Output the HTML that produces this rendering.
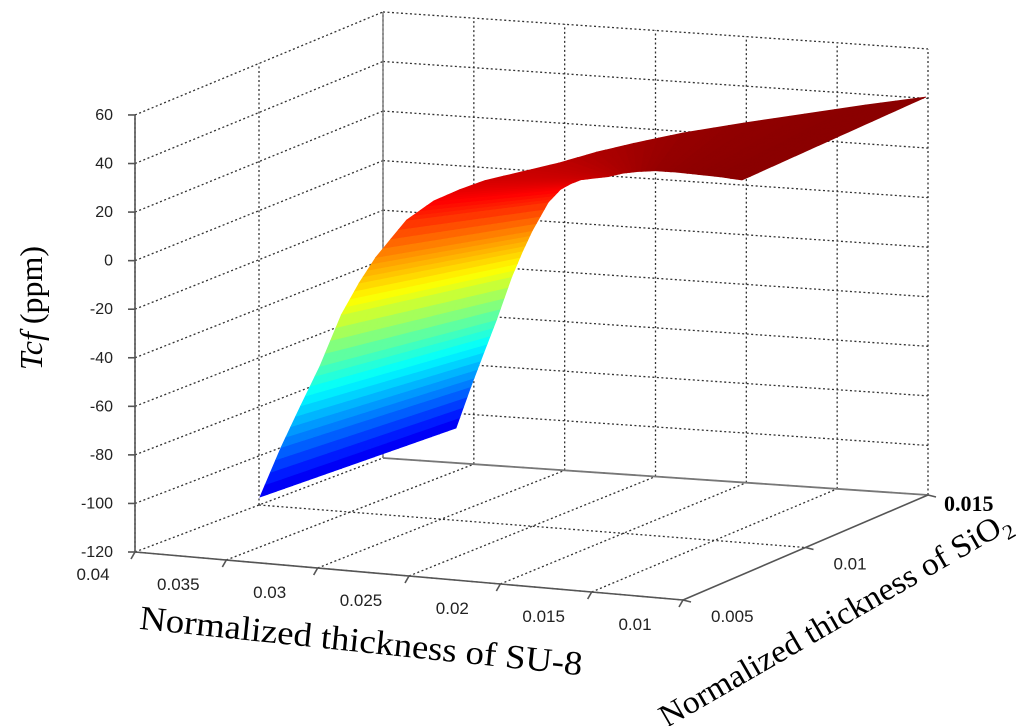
<!DOCTYPE html>
<html><head><meta charset="utf-8"><style>
html,body{margin:0;padding:0;background:#fff;}
svg{display:block;}
</style></head><body>
<svg id="chart" width="1024" height="726" viewBox="0 0 1024 726" xmlns="http://www.w3.org/2000/svg">
<g id="grid"></g>
<g id="surface"></g>
<g id="axes"></g>
<text transform="translate(42,308) rotate(-90)" text-anchor="middle" font-family="Liberation Serif, serif" font-size="32" fill="#000"><tspan font-style="italic">Tcf</tspan> (ppm)</text>
<text transform="translate(360,652) rotate(6)" text-anchor="middle" font-family="Liberation Serif, serif" font-size="34" fill="#000" textLength="445" lengthAdjust="spacingAndGlyphs">Normalized thickness of SU-8</text>
<text transform="translate(840,628) rotate(-30)" text-anchor="middle" font-family="Liberation Serif, serif" font-size="32" fill="#000" textLength="400" lengthAdjust="spacingAndGlyphs">Normalized thickness of SiO<tspan font-size="21" dy="8">2</tspan></text>
</svg>
<script>
// ---- data ----
const su8 = [0.035,0.0345,0.034,0.0335,0.033,0.0325,0.032,0.031,0.030,0.029,0.028,0.0265,0.025,0.0235,0.022,0.020,0.0175,0.015,0.0125,0.01];
const tcf = [-100,-76,-56,-37,-12,3,15,32,40,44,47,49,51,54,56,58,59,59.5,60,60];
const zTicks = [60,40,20,0,-20,-40,-60,-80,-100,-120];
const su8Ticks = ["0.04","0.035","0.03","0.025","0.02","0.015","0.01"];
const sio2Ticks = ["0.005","0.01","0.015"];

const NS = "http://www.w3.org/2000/svg";
function mk(tag, attrs, parent){const e=document.createElementNS(NS,tag);for(const k in attrs)e.setAttribute(k,attrs[k]);parent.appendChild(e);return e;}
const lerp=(p,q,t)=>[p[0]+(q[0]-p[0])*t,p[1]+(q[1]-p[1])*t];

// ---- box projection ----
const FL=[135,552], FR=[683,600], BR=[928,495], BL=[383,458];
const zMin=-120, zMax=60;
function floorPt(a,b){return lerp(lerp(FL,FR,a),lerp(BL,BR,a),b);}
function scaleAt(b){return 2.428+(2.478-2.428)*b;}
function boxP(a,b,z){const p=floorPt(a,b);return [p[0],p[1]-(z-zMin)*scaleAt(b)];}

const grid=document.getElementById('grid');
const axes=document.getElementById('axes');
function line(p,q,parent,dotted,name,w,col){
  const l=mk('line',{x1:p[0],y1:p[1],x2:q[0],y2:q[1],stroke:col||(dotted?'#333':'#555'),'stroke-width':w||(dotted?1.3:1.6)},parent);
  if(dotted) l.setAttribute('stroke-dasharray','2,2.5');
  
  
  return l;
}
const nA=su8Ticks.length-1, nB=sio2Ticks.length-1;
zTicks.forEach(z=>{
  line(boxP(0,0,z),boxP(0,1,z),grid,true,'left-wall-gridline');
  line(boxP(0,1,z),boxP(1,1,z),grid,true,'back-wall-gridline');
});
for(let j=0;j<=nB;j++){line(boxP(0,j/nB,zMin),boxP(0,j/nB,zMax),grid,true,'left-wall-vgrid');}
for(let i=1;i<=nA;i++){line(boxP(i/nA,1,zMin),boxP(i/nA,1,zMax),grid,true,'back-wall-vgrid');}
for(let i=1;i<nA;i++){line(floorPt(i/nA,0),floorPt(i/nA,1),grid,true,'floor-gridline-su8');}
for(let j=0;j<nB;j++){line(floorPt(0,j/nB),floorPt(1,j/nB),grid,true,'floor-gridline-sio2');}
line(boxP(0,0,zMin),boxP(0,0,zMax),axes,false,'z-axis-line');
line(boxP(0,1,zMin),boxP(0,1,zMax),grid,false,'back-corner-line',1.4,'#777');
line(floorPt(0,1),floorPt(1,1),grid,false,'back-floor-line',1.8,'#777');
line(FL,FR,axes,false,'su8-axis-line');
line(FR,BR,axes,false,'sio2-axis-line');

const font='Liberation Sans, sans-serif';
zTicks.forEach(z=>{
  const p=boxP(0,0,z);
  line(p,[p[0]-7,p[1]],axes,false,'z-tick');
  const t=mk('text',{x:p[0]-22,y:p[1]+5,'text-anchor':'end','font-family':font,'font-size':16,fill:'#222'},axes);
  
  
  t.textContent=String(z);
});
su8Ticks.forEach((lab,i)=>{
  const p=floorPt(i/nA,0);
  line(p,[p[0]-4,p[1]+7],axes,false,'su8-tick');
  const t=mk('text',{x:i===0?p[0]-42:p[0]-48,y:i===0?p[1]+28:p[1]+30,'text-anchor':'middle','font-family':font,'font-size':17,fill:'#222'},axes);
  
  
  t.textContent=lab;
});
sio2Ticks.forEach((lab,j)=>{
  const p=floorPt(1,j/nB);
  line(p,[p[0]+8,p[1]+2],axes,false,'sio2-tick');
  const bold=(j===nB);
  const t=mk('text',{x:p[0]+(bold?16:28),y:p[1]+(bold?16:22),'text-anchor':'start','font-family':bold?'Liberation Serif, serif':font,'font-size':bold?22:17,'font-weight':bold?'bold':'normal',fill:bold?'#000':'#222'},axes);
  
  
  t.textContent=lab;
});

// ---- surface ----
function jet(v){
  v=Math.max(0,Math.min(1,v));
  const r=Math.max(0,Math.min(1,1.5-Math.abs(4*v-3)));
  const g=Math.max(0,Math.min(1,1.5-Math.abs(4*v-2)));
  const b=Math.max(0,Math.min(1,1.5-Math.abs(4*v-1)));
  return `rgb(${Math.round(r*255)},${Math.round(g*255)},${Math.round(b*255)})`;
}
const sStart=su8[0], sEnd=su8[su8.length-1];
function surfP(s,b,z){
  const a=(sStart-s)/(sStart-sEnd), zp=(z+100)/160;
  const O=lerp([260,497],[456,428],b), S=lerp([606,-80],[216,32],b), Z=lerp([60,-320],[70,-280],b);
  return [O[0]+a*S[0]+zp*Z[0], O[1]+a*S[1]+zp*Z[1]];
}
const surf=document.getElementById('surface');
const SUB=4, NB=24;
const pts=[];
for(let k=0;k<su8.length-1;k++){
  for(let m=0;m<SUB;m++){const f=m/SUB;pts.push([su8[k]+(su8[k+1]-su8[k])*f, tcf[k]+(tcf[k+1]-tcf[k])*f]);}
}
pts.push([su8[su8.length-1],tcf[tcf.length-1]]);
for(let i=0;i<pts.length-1;i++){
  const [s1,z1]=pts[i],[s2,z2]=pts[i+1];
  const col=jet(((z1+z2)/2+118)/180);
  for(let j=NB-1;j>=0;j--){
    const b1=j/NB,b2=(j+1)/NB;
    const q=[surfP(s1,b1,z1),surfP(s2,b1,z2),surfP(s2,b2,z2),surfP(s1,b2,z1)];
    const poly=mk('polygon',{points:q.map(p=>p.join(',')).join(' '),fill:col,stroke:col,'stroke-width':0.8},surf);
    
    
  }
}
</script>
</body></html>
